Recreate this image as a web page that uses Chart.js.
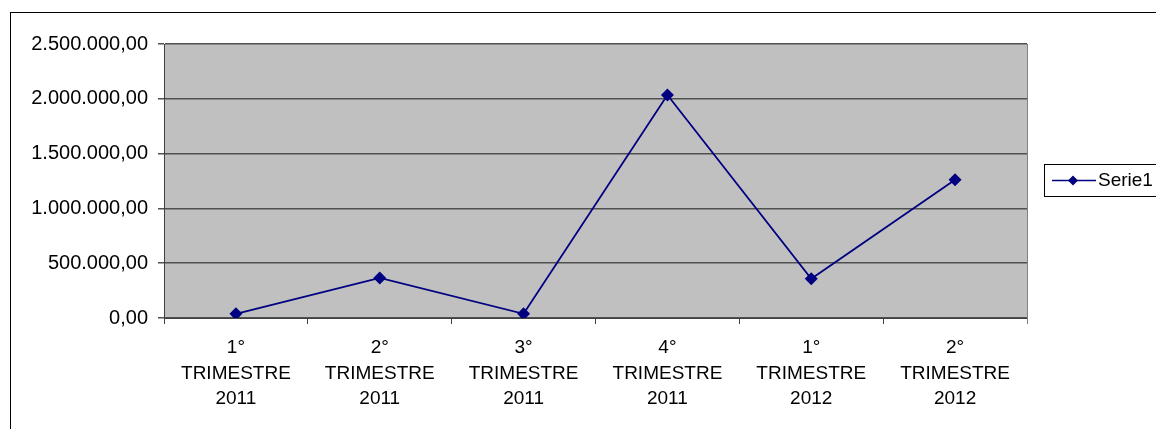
<!DOCTYPE html>
<html>
<head>
<meta charset="utf-8">
<script src="https://cdn.jsdelivr.net/npm/chart.js@4.4.0/dist/chart.umd.min.js"></script>
<style>
  html, body { margin: 0; padding: 0; background: #fff; }
  #wrap { width: 1156px; height: 429px; position: relative; }
</style>
</head>
<body>
<div id="wrap"><canvas id="chart" width="1156" height="429"></canvas></div>
<script>
    // chart data
    const categories = [
        ['1°', 'TRIMESTRE', '2011'],
        ['2°', 'TRIMESTRE', '2011'],
        ['3°', 'TRIMESTRE', '2011'],
        ['4°', 'TRIMESTRE', '2011'],
        ['1°', 'TRIMESTRE', '2012'],
        ['2°', 'TRIMESTRE', '2012']
    ];
    const serie1 = [38000, 365000, 38000, 2035000, 358000, 1262000];
    const seriesLabel = 'Serie1';
    const yMax = 2500000;
    const yStep = 500000;

    const fontFamily = '"Liberation Sans", Arial, sans-serif';
    const fmt = v => v.toLocaleString('de-DE', {minimumFractionDigits: 2, maximumFractionDigits: 2});

    // grey plot area, outer frame and legend box
    const decor = {
        id: 'decor',
        beforeDraw(chart) {
            const ctx = chart.ctx;
            const a = chart.chartArea;
            ctx.save();
            ctx.fillStyle = '#fff';
            ctx.fillRect(0, 0, chart.width, chart.height);
            ctx.strokeStyle = '#000';
            ctx.lineWidth = 1;
            ctx.strokeRect(10.5, 12.5, chart.width + 20, chart.height + 20);
            ctx.fillStyle = '#c0c0c0';
            ctx.fillRect(a.left, a.top, a.right - a.left, a.bottom - a.top);
            ctx.restore();
        },
        afterDraw(chart) {
            const ctx = chart.ctx;
            const a = chart.chartArea;
            ctx.save();
            ctx.strokeStyle = '#808080';
            ctx.lineWidth = 1;
            ctx.beginPath();
            ctx.moveTo(a.right + 0.5, a.top);
            ctx.lineTo(a.right + 0.5, a.bottom + 6);
            ctx.stroke();

            // legend
            ctx.strokeStyle = '#000';
            ctx.strokeRect(1044.5, 164.5, 140, 32);
            const ly = 180.5;
            ctx.strokeStyle = '#000080';
            ctx.lineWidth = 1.5;
            ctx.beginPath();
            ctx.moveTo(1052, ly);
            ctx.lineTo(1096, ly);
            ctx.stroke();
            ctx.fillStyle = '#000080';
            ctx.beginPath();
            ctx.moveTo(1073, ly - 5);
            ctx.lineTo(1078, ly);
            ctx.lineTo(1073, ly + 5);
            ctx.lineTo(1068, ly);
            ctx.closePath();
            ctx.fill();
            ctx.fillStyle = '#000';
            ctx.font = '19px ' + fontFamily;
            ctx.textBaseline = 'middle';
            ctx.fillText(chart.data.datasets[0].label, 1098, ly);
            ctx.restore();
        }
    };

    new Chart(document.getElementById('chart').getContext('2d'), {
        type: 'line',
        data: {
            labels: categories,
            datasets: [
                {
                    label: seriesLabel,
                    data: serie1,
                    borderColor: '#000080',
                    backgroundColor: '#000080',
                    borderWidth: 1.8,
                    pointStyle: 'rectRot',
                    pointRadius: 6.5,
                    pointBorderWidth: 0,
                    tension: 0
                }
            ]
        },
        options: {
            responsive: false,
            animation: false,
            layout: {
                padding: {top: 44, right: 129, bottom: 0, left: 0}
            },
            plugins: {
                legend: {display: false},
                tooltip: {enabled: false}
            },
            scales: {
                x: {
                    offset: true,
                    grid: {
                        offset: true,
                        drawOnChartArea: false,
                        tickLength: 6,
                        color: '#404040'
                    },
                    border: {color: '#404040', width: 1},
                    ticks: {
                        color: '#000',
                        padding: 11,
                        maxRotation: 0,
                        font: {family: fontFamily, size: 19, lineHeight: 1.35}
                    },
                    afterFit: scale => { scale.height = 111; }
                },
                y: {
                    min: 0,
                    max: yMax,
                    ticks: {
                        stepSize: yStep,
                        color: '#000',
                        padding: 10,
                        font: {family: fontFamily, size: 20},
                        callback: v => fmt(v)
                    },
                    grid: {
                        color: '#505050',
                        lineWidth: 1.5,
                        tickLength: 6
                    },
                    border: {color: '#404040', width: 1},
                    afterFit: scale => { scale.width = 164; }
                }
            }
        },
        plugins: [decor]
    });
</script>
</body>
</html>
